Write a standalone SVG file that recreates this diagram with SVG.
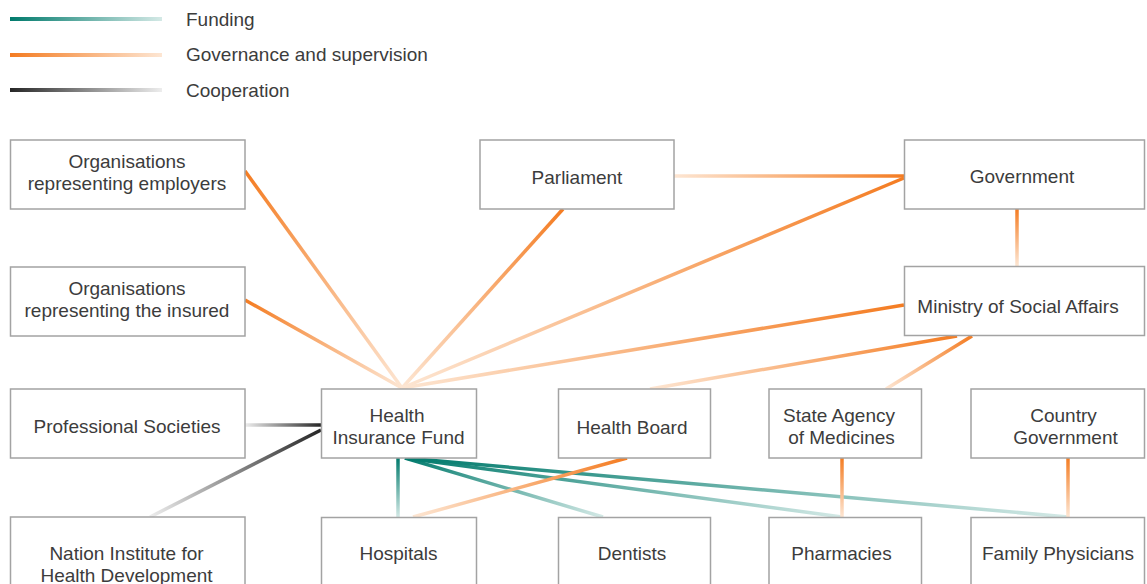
<svg xmlns="http://www.w3.org/2000/svg" width="1147" height="584" viewBox="0 0 1147 584">
<style>
  .box{fill:#fff;stroke:#a3a3a3;stroke-width:1.5}
  .t{font-family:"Liberation Sans",Arial,sans-serif;font-size:19px;fill:#3c3c3c;text-anchor:middle}
  .lt{font-family:"Liberation Sans",Arial,sans-serif;font-size:19px;fill:#3c3c3c}
  .c{fill:none;stroke-width:3.5;stroke-linecap:butt}
  .od{stop-color:#f47c22}.op{stop-color:#fde6d3}
  .td{stop-color:#007a6c}.tp{stop-color:#d4e9e6}
  .gd{stop-color:#262626}.gp{stop-color:#ededed}
</style>
<defs>
  <linearGradient id="lgF" gradientUnits="userSpaceOnUse" x1="10" y1="19" x2="162" y2="19"><stop offset="0" class="td"/><stop offset="1" class="tp"/></linearGradient>
  <linearGradient id="lgG" gradientUnits="userSpaceOnUse" x1="10" y1="55" x2="162" y2="55"><stop offset="0" class="od"/><stop offset="1" class="op"/></linearGradient>
  <linearGradient id="lgC" gradientUnits="userSpaceOnUse" x1="10" y1="90" x2="162" y2="90"><stop offset="0" class="gd"/><stop offset="1" class="gp"/></linearGradient>

  <linearGradient id="g1" gradientUnits="userSpaceOnUse" x1="245" y1="171" x2="402" y2="388"><stop offset="0" class="od"/><stop offset="1" class="op"/></linearGradient>
  <linearGradient id="g2" gradientUnits="userSpaceOnUse" x1="245" y1="300" x2="402" y2="388"><stop offset="0" class="od"/><stop offset="1" class="op"/></linearGradient>
  <linearGradient id="g3" gradientUnits="userSpaceOnUse" x1="563" y1="209" x2="402" y2="388"><stop offset="0" class="od"/><stop offset="1" class="op"/></linearGradient>
  <linearGradient id="g4" gradientUnits="userSpaceOnUse" x1="904" y1="178" x2="402" y2="388"><stop offset="0" class="od"/><stop offset="1" class="op"/></linearGradient>
  <linearGradient id="g5" gradientUnits="userSpaceOnUse" x1="904" y1="176" x2="674" y2="176"><stop offset="0" class="od"/><stop offset="1" class="op"/></linearGradient>
  <linearGradient id="g6" gradientUnits="userSpaceOnUse" x1="1017" y1="209" x2="1017" y2="266"><stop offset="0" class="od"/><stop offset="1" class="op"/></linearGradient>
  <linearGradient id="g7" gradientUnits="userSpaceOnUse" x1="904" y1="305" x2="402" y2="388"><stop offset="0" class="od"/><stop offset="1" class="op"/></linearGradient>
  <linearGradient id="g8" gradientUnits="userSpaceOnUse" x1="957" y1="336" x2="650" y2="389"><stop offset="0" class="od"/><stop offset="1" class="op"/></linearGradient>
  <linearGradient id="g9" gradientUnits="userSpaceOnUse" x1="972" y1="336" x2="886" y2="389"><stop offset="0" class="od"/><stop offset="1" class="op"/></linearGradient>
  <linearGradient id="g10" gradientUnits="userSpaceOnUse" x1="627" y1="458" x2="413" y2="517"><stop offset="0" class="od"/><stop offset="1" class="op"/></linearGradient>
  <linearGradient id="g11" gradientUnits="userSpaceOnUse" x1="842" y1="458" x2="842" y2="517"><stop offset="0" class="od"/><stop offset="1" class="op"/></linearGradient>
  <linearGradient id="g12" gradientUnits="userSpaceOnUse" x1="1068" y1="458" x2="1068" y2="517"><stop offset="0" class="od"/><stop offset="1" class="op"/></linearGradient>

  <linearGradient id="t1" gradientUnits="userSpaceOnUse" x1="398" y1="458" x2="398" y2="517"><stop offset="0" class="td"/><stop offset="1" class="tp"/></linearGradient>
  <linearGradient id="t2" gradientUnits="userSpaceOnUse" x1="405" y1="458" x2="603" y2="517"><stop offset="0" class="td"/><stop offset="1" class="tp"/></linearGradient>
  <linearGradient id="t3" gradientUnits="userSpaceOnUse" x1="405" y1="458" x2="842" y2="517"><stop offset="0" class="td"/><stop offset="1" class="tp"/></linearGradient>
  <linearGradient id="t4" gradientUnits="userSpaceOnUse" x1="405" y1="458" x2="1068" y2="517"><stop offset="0" class="td"/><stop offset="1" class="tp"/></linearGradient>

  <linearGradient id="c1" gradientUnits="userSpaceOnUse" x1="321" y1="425" x2="245" y2="425"><stop offset="0" class="gd"/><stop offset="1" class="gp"/></linearGradient>
  <linearGradient id="c2" gradientUnits="userSpaceOnUse" x1="321" y1="430" x2="150" y2="517"><stop offset="0" class="gd"/><stop offset="1" class="gp"/></linearGradient>
</defs>

<g id="legend">
  <line x1="10" y1="19" x2="162" y2="19" stroke="url(#lgF)" stroke-width="4"/>
  <line x1="10" y1="55" x2="162" y2="55" stroke="url(#lgG)" stroke-width="4"/>
  <line x1="10" y1="90" x2="162" y2="90" stroke="url(#lgC)" stroke-width="4"/>
  <text class="lt" x="186" y="25.5">Funding</text>
  <text class="lt" x="186" y="61">Governance and supervision</text>
  <text class="lt" x="186" y="96.5">Cooperation</text>
</g>

<g id="connectors">
  <line class="c" x1="245" y1="171" x2="402" y2="388" stroke="url(#g1)"/>
  <line class="c" x1="245" y1="300" x2="402" y2="388" stroke="url(#g2)"/>
  <line class="c" x1="563" y1="209" x2="402" y2="388" stroke="url(#g3)"/>
  <line class="c" x1="904" y1="178" x2="402" y2="388" stroke="url(#g4)"/>
  <line class="c" x1="904" y1="176" x2="674" y2="176" stroke="url(#g5)"/>
  <line class="c" x1="1017" y1="209" x2="1017" y2="266" stroke="url(#g6)"/>
  <line class="c" x1="904" y1="305" x2="402" y2="388" stroke="url(#g7)"/>
  <line class="c" x1="957" y1="336" x2="650" y2="389" stroke="url(#g8)"/>
  <line class="c" x1="972" y1="336" x2="886" y2="389" stroke="url(#g9)"/>
  <line class="c" x1="398" y1="458" x2="398" y2="517" stroke="url(#t1)"/>
  <line class="c" x1="405" y1="458" x2="603" y2="517" stroke="url(#t2)"/>
  <line class="c" x1="405" y1="458" x2="842" y2="517" stroke="url(#t3)"/>
  <line class="c" x1="405" y1="458" x2="1068" y2="517" stroke="url(#t4)"/>
  <line class="c" x1="627" y1="458" x2="413" y2="517" stroke="url(#g10)"/>
  <line class="c" x1="842" y1="458" x2="842" y2="517" stroke="url(#g11)"/>
  <line class="c" x1="1068" y1="458" x2="1068" y2="517" stroke="url(#g12)"/>
  <line class="c" x1="321" y1="425" x2="245" y2="425" stroke="url(#c1)"/>
  <line class="c" x1="321" y1="430" x2="150" y2="517" stroke="url(#c2)"/>
</g>

<g id="org-employers">
  <rect class="box" x="10.5" y="140" width="234.5" height="69"/>
  <text class="t" x="127" y="167.5">Organisations</text>
  <text class="t" x="127" y="189.5">representing employers</text>
</g>
<g id="org-insured">
  <rect class="box" x="10.5" y="267" width="234.5" height="69"/>
  <text class="t" x="127" y="294.5">Organisations</text>
  <text class="t" x="127" y="316.8">representing the insured</text>
</g>
<g id="professional-societies">
  <rect class="box" x="10.5" y="389" width="234.5" height="69"/>
  <text class="t" x="127" y="433">Professional Societies</text>
</g>
<g id="nation-institute">
  <rect class="box" x="10.5" y="517" width="234.5" height="80"/>
  <text class="t" x="126.5" y="560">Nation Institute for</text>
  <text class="t" x="126.5" y="582">Health Development</text>
</g>
<g id="parliament">
  <rect class="box" x="480" y="140" width="194" height="69"/>
  <text class="t" x="577" y="183.5">Parliament</text>
</g>
<g id="government">
  <rect class="box" x="904.5" y="140" width="240" height="69"/>
  <text class="t" x="1022" y="183">Government</text>
</g>
<g id="ministry">
  <rect class="box" x="904.5" y="266.5" width="240" height="69"/>
  <text class="t" x="1018" y="312.5">Ministry of Social Affairs</text>
</g>
<g id="health-insurance-fund">
  <rect class="box" x="321.5" y="389" width="155" height="69"/>
  <text class="t" x="397" y="421.8">Health</text>
  <text class="t" x="398.5" y="444">Insurance Fund</text>
</g>
<g id="health-board">
  <rect class="box" x="558.5" y="389" width="152" height="69"/>
  <text class="t" x="632" y="433.5">Health Board</text>
</g>
<g id="state-agency">
  <rect class="box" x="769" y="389" width="152.5" height="69"/>
  <text class="t" x="839" y="422">State Agency</text>
  <text class="t" x="841.5" y="444">of Medicines</text>
</g>
<g id="country-government">
  <rect class="box" x="971" y="389" width="173.5" height="69"/>
  <text class="t" x="1063.5" y="422">Country</text>
  <text class="t" x="1065.5" y="444">Government</text>
</g>
<g id="hospitals">
  <rect class="box" x="321.5" y="517.5" width="155" height="80"/>
  <text class="t" x="398.5" y="560">Hospitals</text>
</g>
<g id="dentists">
  <rect class="box" x="558.5" y="517.5" width="152" height="80"/>
  <text class="t" x="632" y="560">Dentists</text>
</g>
<g id="pharmacies">
  <rect class="box" x="769" y="517.5" width="152.5" height="80"/>
  <text class="t" x="841.5" y="560">Pharmacies</text>
</g>
<g id="family-physicians">
  <rect class="box" x="971" y="517.5" width="173.5" height="80"/>
  <text class="t" x="1058" y="560">Family Physicians</text>
</g>
</svg>
